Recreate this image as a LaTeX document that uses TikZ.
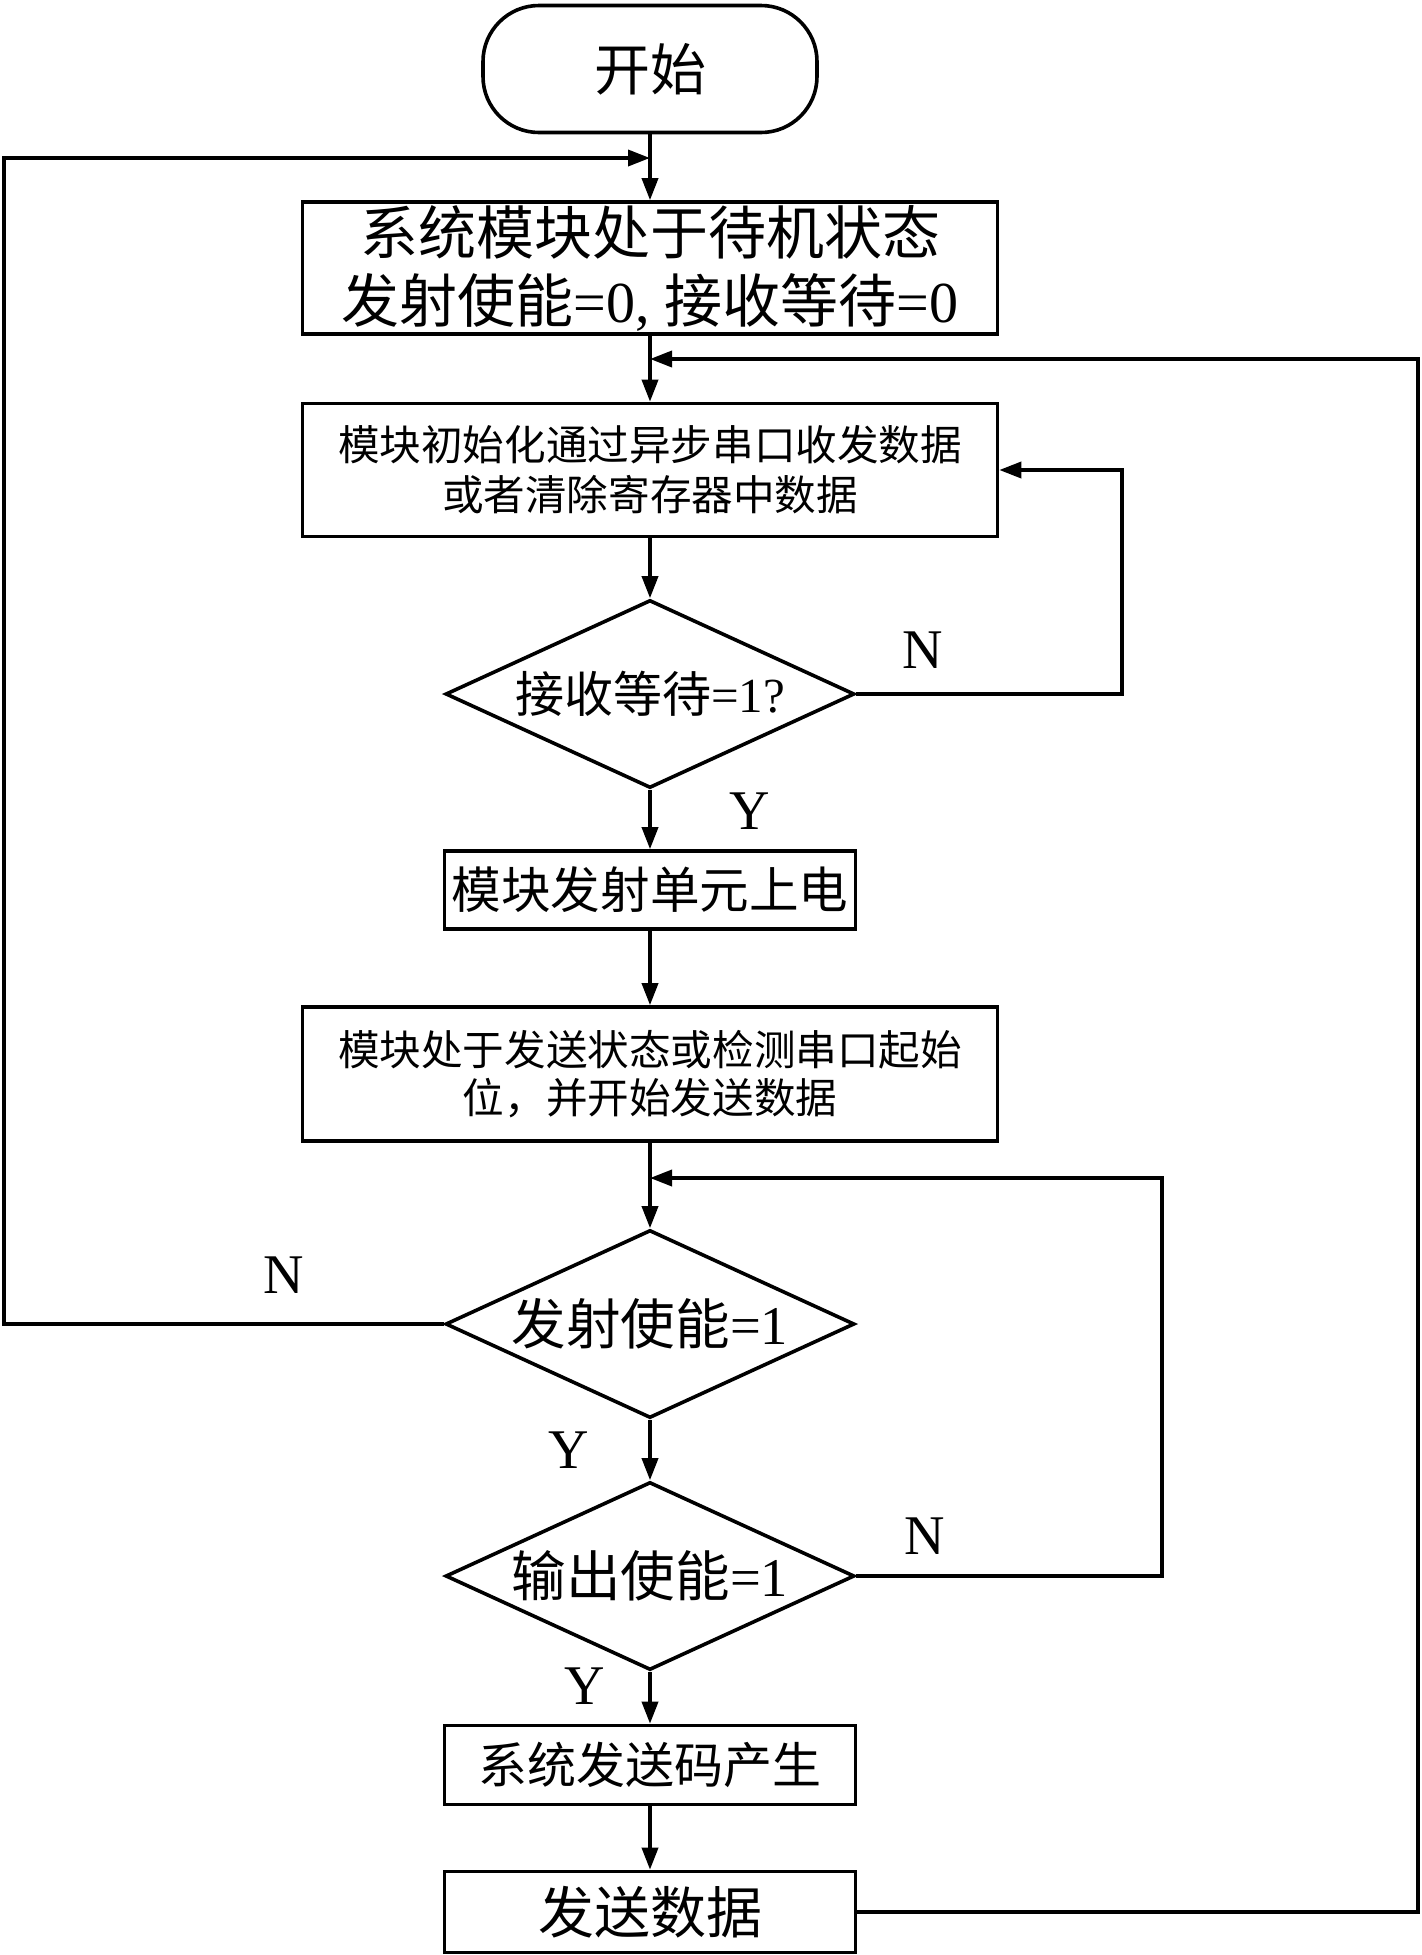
\documentclass[tikz,border=0pt]{standalone}
\usepackage{fontspec}
\setmainfont{Liberation Serif}
\newfontfamily\cjk{Noto Sans CJK SC}
\usetikzlibrary{arrows.meta,shapes.geometric}
\newcommand\zh[1]{{\cjk #1}}
\tikzset{
  box/.style={draw, line width=1.8pt, rectangle, inner sep=0pt, align=center},
  term/.style={draw, line width=1.8pt, rectangle, rounded corners=28pt, inner sep=0pt,
     minimum width=167pt, minimum height=63.5pt, font=\fontsize{28}{32}\selectfont},
  dec/.style={draw, diamond, line width=1.8pt, inner sep=0pt, shape aspect=2.18,
     minimum width=204.5pt, minimum height=94pt},
  dectext/.style={inner sep=0pt},
  arr/.style={-{Triangle[length=11pt,width=8pt]}, line width=1.8pt},
  lbl/.style={inner sep=0pt, font=\fontsize{28}{32}\selectfont},
}
\begin{document}
\begin{tikzpicture}[x=0.5pt,y=-0.5pt]
\useasboundingbox (0,0) rectangle (1421,1955);
\node[term] (start) at (650,69) {\zh{开始}};
\node[box, minimum width=347.5pt, minimum height=66pt, font=\fontsize{29}{34}\selectfont] (box1) at (650,268)
  {\zh{系统模块处于待机状态}\\\zh{发射使能}=0, \zh{接收等待}=0};
\node[box, minimum width=347.5pt, minimum height=66.5pt, font=\fontsize{20.8}{25}\selectfont] (box2) at (650,470)
  {\zh{模块初始化通过异步串口收发数据}\\\zh{或者清除寄存器中数据}};
\node[dec] (d1) at (650,694) {};
\node[dectext, font=\fontsize{24.5}{28}\selectfont] (d1t) at (d1) {\zh{接收等待}=1?};
\node[box, minimum width=205.5pt, minimum height=39pt, font=\fontsize{24.8}{28}\selectfont] (box3) at (650,890)
  {\zh{模块发射单元上电}};
\node[box, minimum width=347.5pt, minimum height=67pt, font=\fontsize{20.8}{24}\selectfont] (box4) at (650,1074)
  {\zh{模块处于发送状态或检测串口起始}\\\zh{位，并开始发送数据}};
\node[dec] (d2) at (650,1324) {};
\node[dectext, font=\fontsize{27.3}{30}\selectfont] (d2t) at (d2) {\zh{发射使能}=1};
\node[dec] (d3) at (650,1576) {};
\node[dectext, font=\fontsize{27.3}{30}\selectfont] (d3t) at (d3) {\zh{输出使能}=1};
\node[box, minimum width=205.5pt, minimum height=39.5pt, font=\fontsize{24.5}{28}\selectfont] (box5) at (650,1765)
  {\zh{系统发送码产生}};
\node[box, minimum width=205.5pt, minimum height=40.5pt, font=\fontsize{28}{32}\selectfont] (box6) at (650,1912)
  {\zh{发送数据}};
% junctions
\coordinate (j1) at (650,158);
\coordinate (j2) at (650,359);
\coordinate (j3) at (650,1178);
\coordinate (cL) at (4,158);
\coordinate (cR) at (1418,359);
\coordinate (cR2) at (1122,470);
\coordinate (cR3) at (1162,1178);
% main flow
\draw[arr] (start) -- (box1);
\draw[arr] (box1) -- (box2);
\draw[arr] (box2) -- (d1);
\draw[arr] (d1) -- (box3);
\draw[arr] (box3) -- (box4);
\draw[arr] (box4) -- (d2);
\draw[arr] (d2) -- (d3);
\draw[arr] (d3) -- (box5);
\draw[arr] (box5) -- (box6);
% loops
\draw[arr] (d2.west) -| (cL) -- (j1);
\draw[arr] (box6.east) -| (cR) -- (j2);
\draw[arr] (d1.east) -| (cR2) -- (box2.east);
\draw[arr] (d3.east) -| (cR3) -- (j3);
% labels
\node[lbl] (n1) at (923,650) {N};
\node[lbl] (y1) at (750,811) {Y};
\node[lbl] (n2) at (284,1275) {N};
\node[lbl] (y2) at (569,1450) {Y};
\node[lbl] (n3) at (925,1536) {N};
\node[lbl] (y3) at (585,1686) {Y};
\end{tikzpicture}
\end{document}
